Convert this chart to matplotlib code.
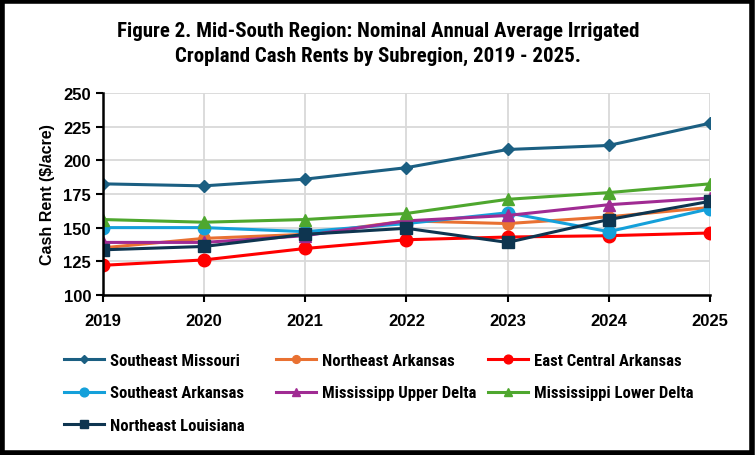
import matplotlib
matplotlib.use("Agg")
import matplotlib.pyplot as plt
from matplotlib.patches import Rectangle

# --- data
years = [2019, 2020, 2021, 2022, 2023, 2024, 2025]

se_missouri = [182.5, 181, 186, 194.5, 208, 211, 227.5]
ne_arkansas = [135, 142, 145, 155, 153, 158, 165]
ec_arkansas = [122, 126, 134.5, 141, 143, 144, 146]
se_arkansas = [150, 150, 147, 153, 161, 147, 164]
ms_upper = [139, 139, 144, 155, 159, 167, 172]
ms_lower = [156, 154, 156, 160.5, 171, 176, 182.5]
ne_louisiana = [133.5, 136, 145, 149.5, 139, 156, 169.5]

names = ["Southeast Missouri", "Northeast Arkansas", "East Central Arkansas",
         "Southeast Arkansas", "Mississipp Upper Delta", "Mississippi Lower Delta",
         "Northeast Louisiana"]

# --- figure
fig = plt.figure(figsize=(7.56, 4.56), dpi=100)
ax = fig.add_axes([0.136, 0.351, 0.803, 0.443])

narrow = ['Roboto Condensed', 'Lato', 'DejaVu Sans']

lines = []
lines += ax.plot(years, se_missouri, c='#1B5F82', lw=2.2, marker='D', ms=6, label=names[0])
lines += ax.plot(years, ne_arkansas, c='#E97132', lw=2.2, marker='o', ms=8, label=names[1])
lines += ax.plot(years, ec_arkansas, c='#FF0000', lw=2.2, marker='o', ms=9, label=names[2])
lines += ax.plot(years, se_arkansas, c='#14A0DA', lw=2.2, marker='o', ms=9, label=names[3])
lines += ax.plot(years, ms_upper, c='#A02B93', lw=2.2, marker='^', ms=8, label=names[4])
lines += ax.plot(years, ms_lower, c='#4EA72E', lw=2.2, marker='^', ms=9, label=names[5])
lines += ax.plot(years, ne_louisiana, c='#0E3550', lw=2.2, marker='s', ms=8, label=names[6])

yticks = [100, 125, 150, 175, 200, 225, 250]
ax.set_xlim(2019, 2025)
ax.set_ylim(100, 250)
ax.set_xticks(years, labels=[str(y) for y in years], fontsize=12,
              fontweight='bold', family='Liberation Sans')
ax.set_yticks(yticks, labels=[str(v) for v in yticks], fontsize=12,
              fontweight='bold', family='Liberation Sans')
ax.grid(True, color='#D9D9D9', lw=1.3)
ax.set_axisbelow(True)
for s in ['top', 'right']:
    ax.spines[s].set_visible(False)
for s in ['left', 'bottom']:
    ax.spines[s].set_linewidth(1.8)
    ax.spines[s].set_color('black')
ax.tick_params(axis='both', direction='out', length=5, width=1.5)
ax.tick_params(axis='x', pad=8)
ax.set_ylabel("Cash Rent ($/acre)", fontsize=11.5, fontweight='bold',
              family='Liberation Sans', labelpad=6)

fig.text(0.5, 0.903, "Figure 2. Mid-South Region: Nominal Annual Average Irrigated\n"
         "Cropland Cash Rents by Subregion, 2019 - 2025.",
         ha='center', va='center', fontsize=15, fontweight='bold',
         family=narrow, linespacing=1.4)

# legend: three equal-width columns filled row by row, like the original
cols = [[0, 3, 6], [1, 4], [2, 5]]
col_x = [64, 276, 488]
for idx, x0 in zip(cols, col_x):
    fig.legend([lines[i] for i in idx], [names[i] for i in idx],
               loc='upper left', bbox_to_anchor=(x0 / 756, 1 - 354 / 456),
               frameon=False, prop={'family': narrow, 'weight': 'bold', 'size': 12},
               handlelength=2.4, handletextpad=0.36, labelspacing=1.05,
               markerscale=0.7, borderpad=0, borderaxespad=0)

fig.patches.append(Rectangle((0.003, 0.005), 0.992, 0.99, transform=fig.transFigure,
                             fill=False, ec='black', lw=4))

plt.savefig('out.png', dpi=100)
